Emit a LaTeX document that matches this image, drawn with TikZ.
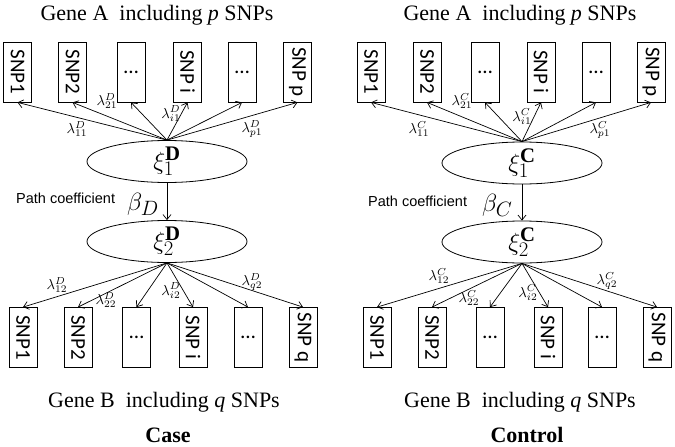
\documentclass[tikz,border=0pt]{standalone}
\usepackage{fontspec}
\setmainfont{Liberation Serif}
\setsansfont{Liberation Sans}
\newfontfamily\snpfont{Carlito}
\usetikzlibrary{arrows.meta,shapes.geometric}
\newcommand\mylam[2]{\scalebox{1.45}{$\lambda^{#1}_{#2}$}}
\begin{document}
\begin{tikzpicture}[x=1pt,y=-1pt,
 snp/.style={draw,line width=0.8pt,minimum width=28pt,minimum height=60pt,inner sep=0pt,font=\snpfont\fontsize{21}{21}\selectfont},
 lat/.style={draw,ellipse,line width=0.8pt,minimum width=160pt,minimum height=42pt,inner sep=0pt,font=\fontsize{24.88}{24.88}\selectfont},
 arr/.style={-{Straight Barb[length=5pt,width=8pt]},line width=0.7pt},
 lam/.style={inner sep=0pt},
 ttl/.style={anchor=base,inner sep=0pt,font=\fontsize{22}{22}\selectfont},
 pc/.style={anchor=base west,inner sep=0pt,font=\sffamily\fontsize{14.5}{14.5}\selectfont},
 beta/.style={anchor=base west,inner sep=0pt,font=\fontsize{24.88}{24.88}\selectfont},
]
\useasboundingbox (0,0) rectangle (675,447);

% ---------------- Case (left) ----------------
\node[ttl] (tA) at (157,20) {Gene A\ \ including \textit{p} SNPs};
\node[snp] (a1) at (17.5,72) {\rotatebox{-90}{SNP1}};
\node[snp] (a2) at (72.5,72) {\rotatebox{-90}{SNP2}};
\node[snp] (a3) at (131,72) {…};
\node[snp] (a4) at (187.5,72) {\rotatebox{-90}{SNP i}};
\node[snp] (a5) at (242,72) {…};
\node[snp] (a6) at (297.5,72) {\rotatebox{-90}{SNP p}};
\node[lat] (e1) at (167,161.5) {$\xi_1^{\mathbf{D}}$};
\node[lat] (e2) at (167,241.5) {$\xi_2^{\mathbf{D}}$};
\node[snp] (b1) at (23,337.5) {\rotatebox{-90}{SNP1}};
\node[snp] (b2) at (78,337.5) {\rotatebox{-90}{SNP2}};
\node[snp] (b3) at (136.5,337.5) {…};
\node[snp] (b4) at (193,337.5) {\rotatebox{-90}{SNP i}};
\node[snp] (b5) at (248,337.5) {…};
\node[snp] (b6) at (303,337.5) {\rotatebox{-90}{SNP q}};
\node[ttl] (tB) at (164,407) {Gene B\ \ including \textit{q} SNPs};
\node[ttl,font=\bfseries\fontsize{22}{22}\selectfont] (case) at (168,442) {Case};
\node[pc] (pcL) at (16,203) {Path coefficient};
\node[beta] (bL) at (127,210) {$\beta_D$};

\foreach \i in {1,...,6} {\draw[arr] (e1.north) -- (a\i.south);}
\foreach \i in {1,...,6} {\draw[arr] (e2.south) -- (b\i.north);}
\draw[arr] (e1.south) -- (e2.north);

\node[lam] (l11) at (77,129) {\mylam{D}{11}};
\node[lam] (l21) at (107,101) {\mylam{D}{21}};
\node[lam] (li1) at (171,114) {\mylam{D}{i1}};
\node[lam] (lp1) at (252,129) {\mylam{D}{p1}};
\node[lam] (l12) at (57,285) {\mylam{D}{12}};
\node[lam] (l22) at (106,300) {\mylam{D}{22}};
\node[lam] (li2) at (171,291) {\mylam{D}{i2}};
\node[lam] (lq2) at (252,282) {\mylam{D}{q2}};

% ---------------- Control (right) ----------------
\node[ttl] (tA2) at (520,20) {Gene A\ \ including \textit{p} SNPs};
\node[snp] (c1) at (371,72) {\rotatebox{-90}{SNP1}};
\node[snp] (c2) at (427,72) {\rotatebox{-90}{SNP2}};
\node[snp] (c3) at (485,72) {…};
\node[snp] (c4) at (541,72) {\rotatebox{-90}{SNP i}};
\node[snp] (c5) at (596,72) {…};
\node[snp] (c6) at (651,72) {\rotatebox{-90}{SNP p}};
\node[lat] (f1) at (522,163) {$\xi_1^{\mathbf{C}}$};
\node[lat] (f2) at (522,242) {$\xi_2^{\mathbf{C}}$};
\node[snp] (d1) at (377,337.5) {\rotatebox{-90}{SNP1}};
\node[snp] (d2) at (432,337.5) {\rotatebox{-90}{SNP2}};
\node[snp] (d3) at (490,337.5) {…};
\node[snp] (d4) at (548,337.5) {\rotatebox{-90}{SNP i}};
\node[snp] (d5) at (602,337.5) {…};
\node[snp] (d6) at (657,337.5) {\rotatebox{-90}{SNP q}};
\node[ttl] (tB2) at (520,407) {Gene B\ \ including \textit{q} SNPs};
\node[ttl,font=\bfseries\fontsize{22}{22}\selectfont] (ctrl) at (527,442) {Control};
\node[pc] (pcR) at (368,206) {Path coefficient};
\node[beta] (bR) at (482,211) {$\beta_C$};

\foreach \i in {1,...,6} {\draw[arr] (f1.north) -- (c\i.south);}
\foreach \i in {1,...,6} {\draw[arr] (f2.south) -- (d\i.north);}
\draw[arr] (f1.south) -- (f2.north);

\node[lam] (m11) at (419,129) {\mylam{C}{11}};
\node[lam] (m21) at (462,101) {\mylam{C}{21}};
\node[lam] (mi1) at (522,117) {\mylam{C}{i1}};
\node[lam] (mp1) at (600,130) {\mylam{C}{p1}};
\node[lam] (m12) at (439,276) {\mylam{C}{12}};
\node[lam] (m22) at (469,298) {\mylam{C}{22}};
\node[lam] (mi2) at (528,293) {\mylam{C}{i2}};
\node[lam] (mq2) at (607,281) {\mylam{C}{q2}};
\end{tikzpicture}
\end{document}
